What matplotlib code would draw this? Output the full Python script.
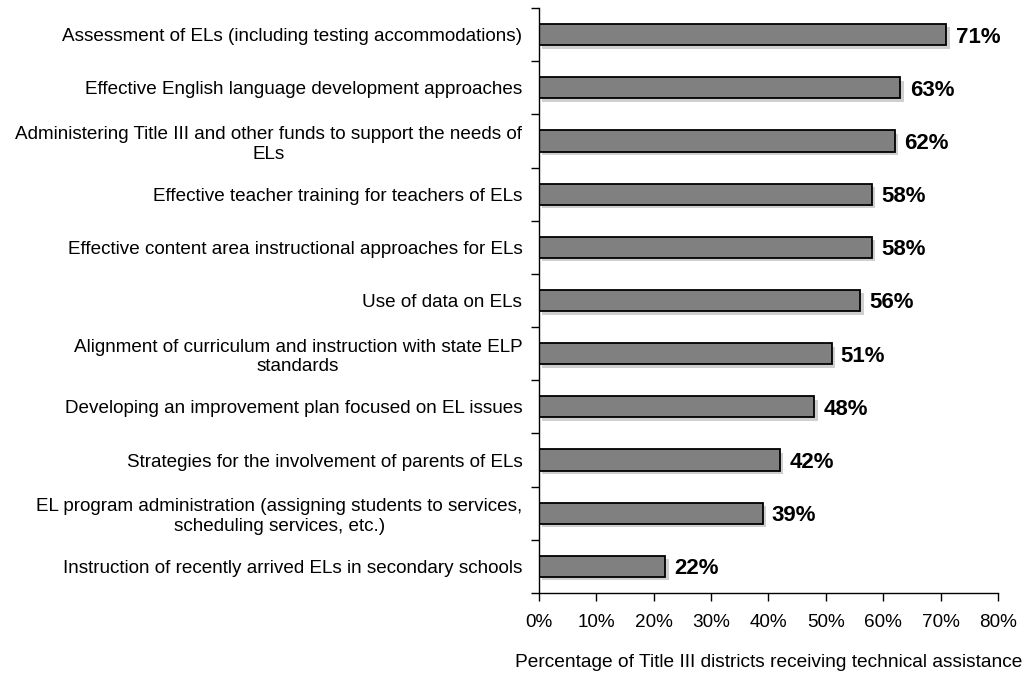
import matplotlib
matplotlib.use("Agg")
import matplotlib.pyplot as plt
import matplotlib.patheffects as pe
import numpy as np

categories = [
    "Assessment of ELs (including testing accommodations)",
    "Effective English language development approaches",
    "Administering Title III and other funds to support the needs of\nELs",
    "Effective teacher training for teachers of ELs",
    "Effective content area instructional approaches for ELs",
    "Use of data on ELs",
    "Alignment of curriculum and instruction with state ELP\nstandards",
    "Developing an improvement plan focused on EL issues",
    "Strategies for the involvement of parents of ELs",
    "EL program administration (assigning students to services,\nscheduling services, etc.)",
    "Instruction of recently arrived ELs in secondary schools",
]
values = [71, 63, 62, 58, 58, 56, 51, 48, 42, 39, 22]
xticks = [0, 10, 20, 30, 40, 50, 60, 70, 80]
xlabel = "Percentage of Title III districts receiving technical assistance"

plt.rcParams['font.family'] = ['Liberation Sans', 'DejaVu Sans']

fig = plt.figure(figsize=(10.26, 6.73), dpi=100)
ax = fig.add_axes([0.5253, 0.1189, 0.9727 - 0.5253, 0.9881 - 0.1189])

n = len(categories)
y = np.arange(n)
ax.barh(y, values, height=0.4, color='#808080', edgecolor='black', linewidth=1.3,
        path_effects=[pe.SimplePatchShadow(offset=(2.5, -2.5), shadow_rgbFace='#888888', alpha=0.4), pe.Normal()])
for yi, v in zip(y, values):
    ax.text(v + 1.6, yi, f"{v}%", va='center_baseline', ha='left', fontsize=16, fontweight='bold')

ax.set_ylim(n - 0.5, -0.5)
ax.set_xlim(0, 80)
ax.set_yticks(np.arange(-0.5, n, 1.0))
ax.set_yticklabels([])
ax.set_yticks(y, minor=True)
ax.set_yticklabels(categories, minor=True, fontsize=13.6, multialignment='center')
ax.tick_params(axis='y', which='minor', length=0, pad=12)
ax.tick_params(axis='y', which='major', length=6, direction='out', width=1)
ax.set_xticks(xticks)
ax.set_xticklabels([f"{t}%" for t in xticks], fontsize=13.6)
ax.tick_params(axis='x', length=6, direction='out', width=1, pad=9)
ax.set_xlabel(xlabel, fontsize=13.8, labelpad=17)

for s in ['top', 'right']:
    ax.spines[s].set_visible(False)
for s in ['left', 'bottom']:
    ax.spines[s].set_linewidth(1)

fig.savefig("out.png", dpi=100)
